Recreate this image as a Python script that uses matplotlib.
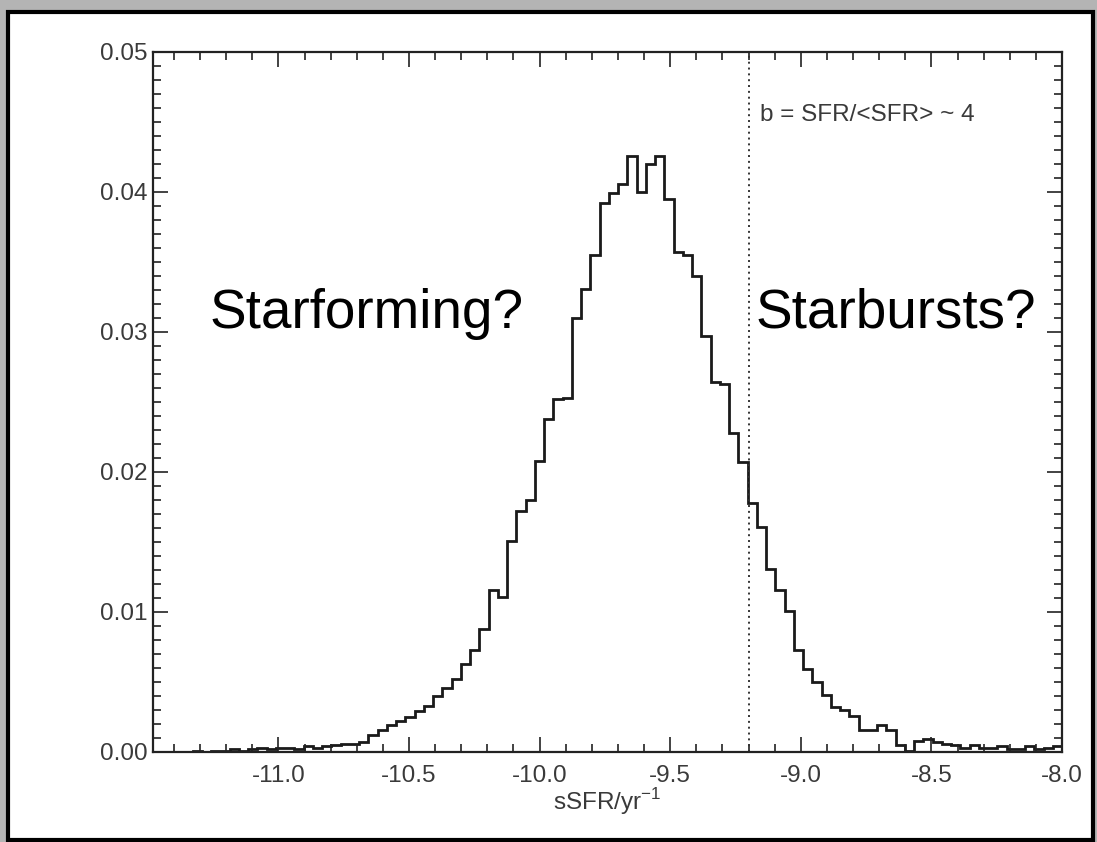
import numpy as np
import matplotlib
matplotlib.use("Agg")
import matplotlib.pyplot as plt
from matplotlib.patches import Rectangle
from matplotlib.ticker import MultipleLocator

plt.rcParams["font.family"] = ["Liberation Sans", "DejaVu Sans"]

# histogram of sSFR (fraction per bin)
bin_lo = -11.47
bin_hi = -8.0
frac = [
    0.0000, 0.0000, 0.0000, 0.0000, 0.0001, 0.0000, 0.0001, 0.0001, 0.0002, 0.0001,
    0.0002, 0.0003, 0.0002, 0.0003, 0.0003, 0.0002, 0.0004, 0.0003, 0.0004, 0.0005,
    0.0006, 0.0006, 0.0007, 0.0012, 0.0016, 0.0019, 0.0022, 0.0025, 0.0029, 0.0033,
    0.0040, 0.0046, 0.0052, 0.0063, 0.0073, 0.0088, 0.0116, 0.0111, 0.0151, 0.0172,
    0.0180, 0.0208, 0.0238, 0.0252, 0.0253, 0.0310, 0.0331, 0.0355, 0.0392, 0.0399,
    0.0406, 0.0426, 0.0400, 0.0420, 0.0426, 0.0395, 0.0357, 0.0355, 0.0340, 0.0297,
    0.0264, 0.0263, 0.0228, 0.0207, 0.0178, 0.0161, 0.0131, 0.0116, 0.0101, 0.0073,
    0.0059, 0.0050, 0.0041, 0.0032, 0.0030, 0.0026, 0.0016, 0.0016, 0.0019, 0.0016,
    0.0005, 0.0001, 0.0008, 0.0009, 0.0007, 0.0006, 0.0005, 0.0003, 0.0005, 0.0003,
    0.0003, 0.0004, 0.0002, 0.0002, 0.0004, 0.0002, 0.0003, 0.0004,
]
edges = np.linspace(bin_lo, bin_hi, len(frac) + 1)

b_cut = -9.2
xticks = [-11.0, -10.5, -10.0, -9.5, -9.0, -8.5, -8.0]
yticks = [0.00, 0.01, 0.02, 0.03, 0.04, 0.05]

W, H = 1097, 842
fig = plt.figure(figsize=(W / 100, H / 100), dpi=100)
fig.patch.set_facecolor("#b4b4b4")

# white slide panel with black frame
panel = Rectangle((8 / W, 2 / H), (1093 - 8) / W, (840 - 12) / H,
                  transform=fig.transFigure, facecolor="white",
                  edgecolor="black", lw=3, zorder=-5)
fig.patches.append(panel)

ax = fig.add_axes([153 / W, 1 - 752 / H, (1062 - 153) / W, (752 - 52) / H])
ax.set_zorder(5)
ax.set_facecolor("white")

ax.stairs(frac, edges, color="#1a1a1a", lw=2.0)
ax.axvline(b_cut, color="#333333", lw=1.4, linestyle=(0, (1, 2)))

ax.set_xlim(-11.48, -8.0)
ax.set_ylim(0, 0.05)
ax.set_xticks(xticks)
ax.set_xticklabels([f"{t:.1f}" for t in xticks])
ax.set_yticks(yticks)
ax.set_yticklabels([f"{t:.2f}" for t in yticks])
ax.xaxis.set_minor_locator(MultipleLocator(0.1))
ax.yaxis.set_minor_locator(MultipleLocator(0.001))

ax.tick_params(which="both", direction="in", top=True, right=True,
               colors="#222222", labelcolor="#3a3a3a", labelsize=17.5)
ax.tick_params(which="major", length=11, width=1.2)
ax.tick_params(which="minor", length=5.5, width=1.2)
ax.tick_params(axis="x", pad=9)
ax.tick_params(axis="y", pad=4)
for s in ax.spines.values():
    s.set_linewidth(1.6)
    s.set_color("#222222")

ax.set_xlabel(r"sSFR/yr$^{\mathregular{-1}}$", fontsize=17.5, color="#3a3a3a",
              labelpad=0)

ax.text(b_cut + 0.045, 0.0455, "b = SFR/<SFR> ~ 4", fontsize=17.5,
        color="#3a3a3a", va="center", ha="left")
ax.text(-11.265, 0.0303, "Starforming?", fontsize=39.5, color="black",
        ha="left", va="baseline")
ax.text(-9.175, 0.0303, "Starbursts?", fontsize=39.5, color="black",
        ha="left", va="baseline")

fig.savefig("out.png", dpi=100, facecolor=fig.get_facecolor())
